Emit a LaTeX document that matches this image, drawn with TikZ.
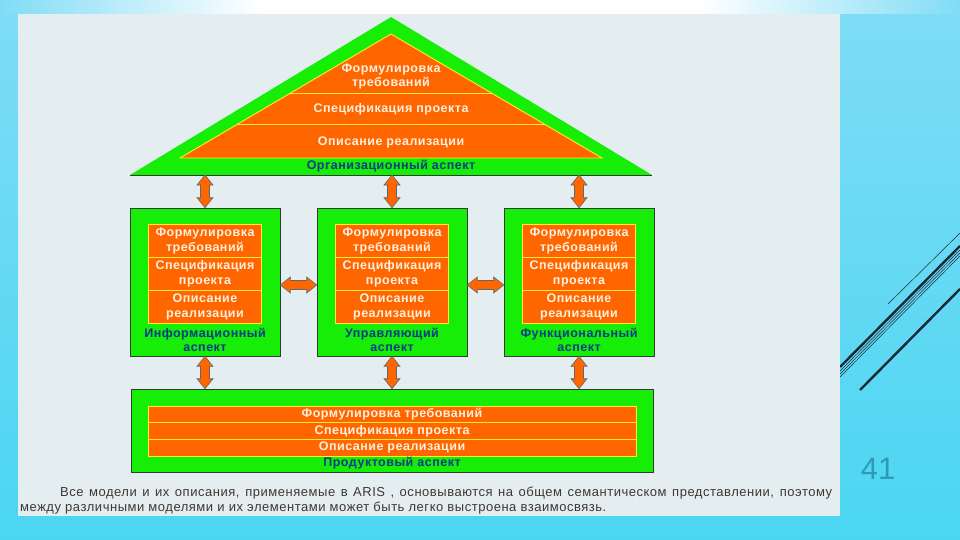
\documentclass[tikz,border=0pt]{standalone}
\usepackage{fontspec}
\setmainfont{Liberation Sans}
\usetikzlibrary{calc}
\definecolor{grn}{RGB}{22,238,8}
\definecolor{org}{RGB}{255,102,0}
\definecolor{ylw}{RGB}{255,236,40}
\definecolor{lbl}{RGB}{14,58,140}
\definecolor{txt}{RGB}{255,240,222}
\definecolor{panel}{RGB}{228,238,240}
\definecolor{cyanA}{RGB}{128,220,246}
\definecolor{cyanB}{RGB}{74,214,242}
\definecolor{navy}{RGB}{25,40,52}
\definecolor{pgnum}{RGB}{45,155,180}
\definecolor{captxt}{RGB}{60,56,52}
\definecolor{edge}{RGB}{50,60,50}
\newcommand\rowfont{\bfseries\fontsize{12.5}{14.5}\selectfont\addfontfeature{LetterSpace=4}}
\tikzset{
  greenbox/.style={fill=grn, draw=edge, line width=0.6pt, inner sep=0pt, minimum width=150pt, minimum height=148pt},
  rowbox/.style={fill=org, draw=ylw, line width=0.9pt, inner sep=0pt, text=txt, font=\rowfont, align=center},
  rowtext/.style={text=txt, font=\rowfont, align=center, inner sep=0pt},
  aspect/.style={text=lbl, font=\bfseries\fontsize{12.5}{14}\selectfont\addfontfeature{LetterSpace=4}, align=center, inner sep=0pt},
  barrow/.style={fill=org, draw=navy!70, line width=0.6pt, line join=miter},
  decothick/.style={draw=navy, line width=2.4pt},
  decothin/.style={draw=navy, line width=0.5pt},
  captext/.style={text=captxt, font=\fontsize{13}{15}\selectfont\addfontfeature{LetterSpace=4}, inner sep=0pt, anchor=west},
}
\newcommand\vdarr[2]{\draw[barrow] let \p1=#1, \p2=#2 in
  (\x1,\y1) -- (\x1+8pt,\y1-10pt) -- (\x1+4.5pt,\y1-10pt) -- (\x1+4.5pt,\y2+10pt) -- (\x1+8pt,\y2+10pt)
  -- (\x1,\y2) -- (\x1-8pt,\y2+10pt) -- (\x1-4.5pt,\y2+10pt) -- (\x1-4.5pt,\y1-10pt) -- (\x1-8pt,\y1-10pt) -- cycle;}
\newcommand\hdarr[2]{\draw[barrow] let \p1=#1, \p2=#2 in
  (\x1,\y1) -- (\x1+10pt,\y1+8pt) -- (\x1+10pt,\y1+4.5pt) -- (\x2-10pt,\y1+4.5pt) -- (\x2-10pt,\y1+8pt)
  -- (\x2,\y1) -- (\x2-10pt,\y1-8pt) -- (\x2-10pt,\y1-4.5pt) -- (\x1+10pt,\y1-4.5pt) -- (\x1+10pt,\y1-8pt) -- cycle;}
\begin{document}
\begin{tikzpicture}[x=1pt,y=-1pt]
\useasboundingbox (0,0) rectangle (960,540);
% background
\shade[top color=cyanA, bottom color=cyanB] (0,0) rectangle (960,540);
\shade[left color=cyanA, right color=white] (0,0) rectangle (260,14);
\fill[white] (259,0) rectangle (701,14);
\shade[left color=white, right color=cyanA] (700,0) rectangle (960,14);
% decorative lines
\draw[decothin] (888,304) -- (960,233);
\draw[decothick] (840,367) -- (960,246);
\draw[decothin] (840,371) -- (960,250);
\draw[decothin] (840,374) -- (960,253);
\draw[decothin] (840,377) -- (960,256);
\draw[decothick] (860,390) -- (960,289);
% panel
\fill[panel] (18,14) rectangle (840,516);
% roof
\coordinate (roofL) at (130,175);
\coordinate (roofR) at (652,175);
\coordinate (roofT) at (391,17);
\coordinate (base) at (391,175);
\fill[grn] (roofL) -- (roofR) -- (roofT) -- cycle;
\draw[edge, line width=0.8pt] (roofL) -- (roofR);
\coordinate (inL) at (180,158);
\coordinate (inR) at (602,158);
\coordinate (inT) at (391,34);
\fill[org] (inL) -- (inR) -- (inT) -- cycle;
\begin{scope}
  \clip (inL) -- (inR) -- (inT) -- cycle;
  \draw[ylw, line width=0.9pt] (150,93) -- (630,93);
  \draw[ylw, line width=0.9pt] (150,124) -- (630,124);
\end{scope}
\draw[ylw, line width=0.9pt, line join=miter] (inL) -- (inR) -- (inT) -- cycle;
\node[rowtext] (r1) at (391,76.5) {Формулировка\\требований};
\node[rowtext] (r2) at (391,109) {Спецификация проекта};
\node[rowtext] (r3) at (391,142) {Описание реализации};
\node[aspect] (orgl) at (391,166.5) {Организационный аспект};
% middle boxes
\node[greenbox] (inf) at (205,282) {};
\node[greenbox] (upr) at (392,282) {};
\node[greenbox] (fun) at (579,282) {};
\foreach \b/\n/\lab in {inf/i/Информационный, upr/u/Управляющий, fun/f/Функциональный}{
  \node[rowbox, minimum width=113pt, minimum height=33pt] (\n1) at ($(\b.center)+(0,-41)$) {Формулировка\\требований};
  \node[rowbox, minimum width=113pt, minimum height=33pt] (\n2) at ($(\b.center)+(0,-8)$) {Спецификация\\проекта};
  \node[rowbox, minimum width=113pt, minimum height=33pt] (\n3) at ($(\b.center)+(0,25)$) {Описание\\реализации};
  \node[aspect] (\n l) at ($(\b.center)+(0,58)$) {\lab\\аспект};
}
% bottom box
\node[greenbox, minimum width=522pt, minimum height=83pt] (prod) at (392,430.5) {};
\node[rowbox, minimum width=488pt, minimum height=16.7pt] (p1) at (392,414.3) {Формулировка требований};
\node[rowbox, minimum width=488pt, minimum height=16.7pt] (p2) at (392,431) {Спецификация проекта};
\node[rowbox, minimum width=488pt, minimum height=16.7pt] (p3) at (392,447.7) {Описание реализации};
\node[aspect] (pl) at (392,463.5) {Продуктовый аспект};
% arrows
\vdarr{(base -| inf.north)}{(inf.north)}
\vdarr{(base -| upr.north)}{(upr.north)}
\vdarr{(base -| fun.north)}{(fun.north)}
\vdarr{(inf.south)}{(inf.south |- prod.north)}
\vdarr{(upr.south)}{(upr.south |- prod.north)}
\vdarr{(fun.south)}{(fun.south |- prod.north)}
\hdarr{([yshift=-3pt]inf.east)}{([yshift=-3pt]upr.west)}
\hdarr{([yshift=-3pt]upr.east)}{([yshift=-3pt]fun.west)}
% caption
\node[captext] (cap1) at (60,493) {\makebox[772pt][s]{Все модели и их описания, применяемые в ARIS , основываются на общем семантическом представлении, поэтому}};
\node[captext] (cap2) at (20,508) {между различными моделями и их элементами может быть легко выстроена взаимосвязь.};
% page number
\node[text=pgnum, font=\fontsize{31}{31}\selectfont, inner sep=0pt] (pg) at (878,469) {41};
\end{tikzpicture}
\end{document}
